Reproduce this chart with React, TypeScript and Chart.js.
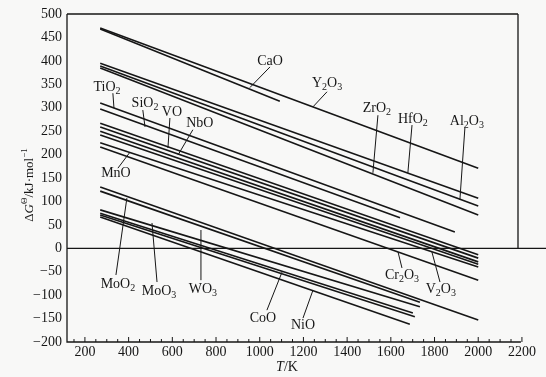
import React, { useEffect, useRef } from "react";
import { Chart, registerables } from "chart.js";
Chart.register(...registerables);

// ---- data (T in K, ΔG in kJ/mol) ----
const lineNames = ["Y2O3", "CaO", "HfO2", "ZrO2", "Al2O3", "TiO2", "SiO2", "VO", "NbO", "V2O3", "MnO-a", "MnO", "Cr2O3", "MoO2", "WO3", "MoO3", "MoO3-b", "CoO", "NiO"];
const startT = [270, 270, 270, 270, 270, 270, 270, 270, 270, 270, 270, 270, 270, 270, 270, 270, 270, 270, 270];
const startG = [470, 468, 395, 389, 385, 310, 297, 267, 259, 250, 242, 225, 216, 131, 122, 82, 75, 71, 67];
const endT = [2000, 1092, 2000, 2000, 2000, 1893, 1642, 2000, 2000, 2000, 2000, 2000, 2000, 2000, 1733, 1733, 1701, 1710, 1687];
const endG = [171, 314, 107, 90, 71, 35, 65, -14, -21, -29, -34, -40, -68, -153, -115, -125, -138, -146, -162];

const xTicks = [200, 400, 600, 800, 1000, 1200, 1400, 1600, 1800, 2000, 2200];
const yMin = -200;
const yMax = 500;

// label annotations (text centre, leader from -> to), in data units
const labelText = ["CaO", "Y2O3", "ZrO2", "HfO2", "Al2O3", "TiO2", "SiO2", "VO", "NbO", "MnO", "MoO2", "MoO3", "WO3", "CoO", "NiO", "Cr2O3", "V2O3"];
const labelT = [1047, 1308, 1536, 1701, 1948, 301, 475, 598, 726, 342, 351, 539, 740, 1015, 1198, 1651, 1829];
const labelG = [400, 351, 299, 276, 270, 344, 310, 291, 267, 159, -76, -91, -87, -149, -164, -57, -87];
const leadFromT = [1047, 1308, 1541, 1697, 1939, 328, 465, 589, 694, 351, 342, 530, 731, 1033, 1198, 1651, 1825];
const leadFromG = [387, 334, 284, 263, 257, 331, 295, 278, 253, 171, -57, -72, -68, -132, -149, -42, -72];
const leadToT = [955, 1244, 1518, 1678, 1916, 333, 475, 580, 626, 406, 392, 507, 731, 1102, 1244, 1633, 1788];
const leadToG = [343, 302, 161, 161, 103, 299, 259, 214, 199, 205, 107, 54, 39, -51, -89, -8, -8];

const INK = "#161616";
const SERIF = "'Liberation Serif', 'DejaVu Serif', serif";

type Part = { t: string; font: string; dy: number };

function drawParts(ctx: CanvasRenderingContext2D, parts: Part[], cx: number, cy: number) {
  let total = 0;
  for (const p of parts) {
    ctx.font = p.font;
    total += ctx.measureText(p.t).width;
  }
  let x = cx - total / 2;
  ctx.textBaseline = "middle";
  ctx.textAlign = "left";
  for (const p of parts) {
    ctx.font = p.font;
    ctx.fillText(p.t, x, cy + p.dy);
    x += ctx.measureText(p.t).width;
  }
}

function chemParts(s: string): Part[] {
  const parts: Part[] = [];
  const re = /([A-Za-z]+)|(\d+)/g;
  let m: RegExpExecArray | null;
  while ((m = re.exec(s))) {
    if (m[1]) parts.push({ t: m[1], font: `14px ${SERIF}`, dy: 0 });
    else parts.push({ t: m[2], font: `10px ${SERIF}`, dy: 4 });
  }
  return parts;
}

const overlay = {
  id: "overlay",
  beforeDraw(chart: any) {
    const { ctx } = chart;
    ctx.save();
    ctx.fillStyle = "#f8f8f7";
    ctx.fillRect(0, 0, chart.width, chart.height);
    ctx.restore();
  },
  afterDatasetsDraw(chart: any) {
    const { ctx, chartArea, scales } = chart;
    const { left, right, top, bottom } = chartArea;
    const xs = scales.x;
    const ys = scales.y;
    ctx.save();
    ctx.strokeStyle = INK;
    ctx.fillStyle = INK;
    ctx.lineWidth = 1.3;
    const y0 = ys.getPixelForValue(0);
    const xEnd = xs.getPixelForValue(2200) - 1;
    ctx.beginPath();
    ctx.moveTo(left, top);
    ctx.lineTo(right, top);
    ctx.moveTo(right, top);
    ctx.lineTo(right, y0);
    ctx.moveTo(left, top);
    ctx.lineTo(left, bottom);
    ctx.lineTo(xEnd, bottom);
    ctx.moveTo(left, y0);
    ctx.lineTo(chart.width, y0);
    ctx.stroke();

    // inward ticks on T axis
    ctx.lineWidth = 1;
    ctx.beginPath();
    for (let t = 150; t <= 2200; t += 50) {
      const px = xs.getPixelForValue(t);
      if (px < left + 1 || px > xEnd + 1) continue;
      const len = t % 200 === 0 ? 5 : 3;
      ctx.moveTo(px, bottom);
      ctx.lineTo(px, bottom - len);
    }
    ctx.stroke();

    // leaders
    ctx.lineWidth = 1;
    ctx.beginPath();
    for (let i = 0; i < labelText.length; i++) {
      ctx.moveTo(xs.getPixelForValue(leadFromT[i]), ys.getPixelForValue(leadFromG[i]));
      ctx.lineTo(xs.getPixelForValue(leadToT[i]), ys.getPixelForValue(leadToG[i]));
    }
    ctx.stroke();

    // labels
    for (let i = 0; i < labelText.length; i++) {
      drawParts(ctx, chemParts(labelText[i]), xs.getPixelForValue(labelT[i]), ys.getPixelForValue(labelG[i]));
    }

    // axis titles
    drawParts(
      ctx,
      [
        { t: "T", font: `italic 14px ${SERIF}`, dy: 0 },
        { t: "/K", font: `14px ${SERIF}`, dy: 0 },
      ],
      287,
      367
    );
    ctx.save();
    ctx.translate(30, 185);
    ctx.rotate(-Math.PI / 2);
    drawParts(
      ctx,
      [
        { t: "Δ", font: `13px ${SERIF}`, dy: 0 },
        { t: "G", font: `italic 13px ${SERIF}`, dy: 0 },
        { t: "Θ", font: `9px ${SERIF}`, dy: -5 },
        { t: "/kJ·mol", font: `13px ${SERIF}`, dy: 0 },
        { t: "−1", font: `9px ${SERIF}`, dy: -5 },
      ],
      0,
      0
    );
    ctx.restore();
    ctx.restore();
  },
};

export default function App() {
  const ref = useRef<HTMLCanvasElement | null>(null);
  useEffect(() => {
    document.body.style.margin = "0";
    if (!ref.current) return;
    const datasets = lineNames.map((name, i) => ({
      label: name,
      data: [
        { x: startT[i], y: startG[i] },
        { x: endT[i], y: endG[i] },
      ],
      borderColor: INK,
      borderWidth: 1.6,
      pointRadius: 0,
      fill: false,
    }));
    const chart = new Chart(ref.current, {
      type: "line",
      data: { datasets },
      plugins: [overlay],
      options: {
        animation: false,
        responsive: false,
        maintainAspectRatio: false,
        layout: { padding: { top: 14, right: 28, left: 0, bottom: 0 } },
        plugins: { legend: { display: false }, tooltip: { enabled: false } },
        scales: {
          x: {
            type: "linear",
            min: 118,
            max: 2182,
            grid: { display: false, drawTicks: false, tickLength: 0 },
            border: { display: false },
            afterBuildTicks: (s: any) => {
              s.ticks = xTicks.map((v) => ({ value: v }));
            },
            afterFit: (s: any) => {
              s.height = 35;
            },
            ticks: {
              autoSkip: false,
              maxRotation: 0,
              padding: 2,
              color: INK,
              font: { family: SERIF, size: 14 },
              callback: (v: any) => String(v),
            },
          },
          y: {
            type: "linear",
            min: yMin,
            max: yMax,
            grid: { display: false, drawTicks: false, tickLength: 0 },
            border: { display: false },
            afterFit: (s: any) => {
              s.width = 67;
            },
            ticks: {
              stepSize: 50,
              padding: 5,
              color: INK,
              font: { family: SERIF, size: 14 },
              callback: (v: any) => (Number(v) < 0 ? "−" + Math.abs(Number(v)) : String(v)),
            },
          },
        },
      },
    });
    return () => chart.destroy();
  }, []);
  return (
    <div style={{ width: 546, height: 377 }}>
      <canvas ref={ref} width={546} height={377} />
    </div>
  );
}
